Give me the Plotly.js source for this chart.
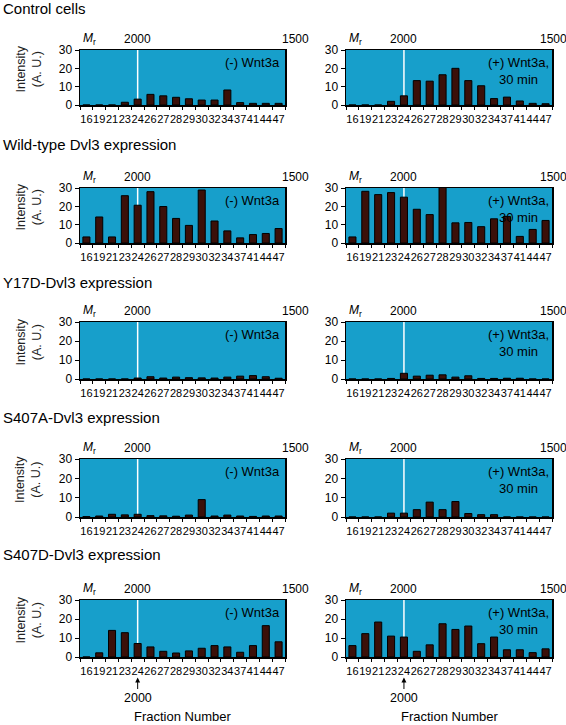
<!DOCTYPE html>
<html>
<head>
<meta charset="utf-8">
<script src="https://cdn.plot.ly/plotly-3.0.1.min.js"></script>
<style>html,body{margin:0;padding:0;background:#fff;}#chart{width:566px;height:725px;}</style>
</head>
<body>
<div id="chart"></div>
<script>
// ---- data ----
const fractions = ['16','19','21','23','24','26','27','28','29','30','32','34','37','41','44','47'];
const markerFraction = '24';
const markerLabel = '2000';
const rightLabel = '1500';

const rowTitles = ['Control cells', 'Wild-type Dvl3 expression', 'Y17D-Dvl3 expression',
                   'S407A-Dvl3 expression', 'S407D-Dvl3 expression'];
const conditionMinus = '(-) Wnt3a';
const conditionPlus = '(+) Wnt3a,<br>30 min';

const controlMinus = [0, 0, 0, 1.5, 3.2, 5.8, 5.0, 4.2, 3.4, 2.7, 2.7, 8.2, 1.3, 0.9, 0.9, 0.9];
const controlPlus  = [0, 0, 0, 2.0, 5.0, 13.3, 13.0, 16.5, 20.0, 13.3, 10.5, 3.5, 4.3, 2.2, 0.9, 0.7];
const wtMinus      = [3.3, 14.2, 3.3, 25.8, 20.6, 28.0, 19.9, 13.4, 9.6, 28.9, 12.0, 6.6, 2.8, 4.6, 5.2, 7.9];
const wtPlus       = [3.3, 28.2, 26.4, 27.5, 25.0, 18.4, 15.5, 30.4, 11.0, 11.2, 8.9, 13.2, 14.5, 3.6, 7.4, 12.3];
const y17dMinus    = [0, 0, 0, 0, 0.5, 1.2, 0.5, 1.0, 0.7, 0.6, 0.5, 1.0, 1.5, 1.8, 1.2, 0.4];
const y17dPlus     = [0, 0, 0, 0.3, 3.0, 1.5, 2.0, 2.2, 1.0, 1.7, 0.3, 0.3, 0.4, 0.4, 0, 0];
const s407aMinus   = [0.2, 0.5, 1.4, 1.1, 1.4, 0.7, 0.6, 0.4, 1.0, 9.0, 0.5, 1.0, 0.5, 0.3, 0.5, 0.5];
const s407aPlus    = [0, 0, 0, 2.0, 2.0, 3.8, 7.7, 3.8, 8.0, 1.8, 1.2, 1.2, 0, 0, 0, 0];
const s407dMinus   = [0, 2.2, 14.0, 12.8, 7.1, 5.3, 3.0, 2.1, 3.2, 4.6, 6.0, 5.3, 2.5, 6.0, 16.5, 8.0];
const s407dPlus    = [6.0, 12.3, 18.4, 11.0, 10.5, 3.0, 6.4, 17.5, 14.5, 16.3, 7.0, 10.5, 3.8, 3.8, 2.3, 4.3];

const panels = [
  [controlMinus, controlPlus],
  [wtMinus, wtPlus],
  [y17dMinus, y17dPlus],
  [s407aMinus, s407aPlus],
  [s407dMinus, s407dPlus]
];

// ---- layout geometry ----
const W = 566, H = 725;
const rowPx = [[50,105],[188,243],[322,379],[459,517],[600,657]];
const colPx = [[80,285],[346,552]];
const titlePx = [8, 144, 282, 418, 554];

const BG = '#179fcb';
const BAR = '#3b1009';
const FONT = 'Liberation Sans, Arial, Helvetica, sans-serif';

const traces = [];
const layout = {
  width: W, height: H,
  margin: {l:0, r:0, t:0, b:0},
  paper_bgcolor: '#ffffff',
  plot_bgcolor: BG,
  showlegend: false,
  bargap: 0.45,
  font: {family: FONT, color: '#000', size: 11},
  annotations: [],
  shapes: []
};

const markerIdx = fractions.indexOf(markerFraction);

let k = 0;
panels.forEach((pair, r) => {
  pair.forEach((vals, c) => {
    k++;
    const xa = 'xaxis' + (k === 1 ? '' : k);
    const ya = 'yaxis' + (k === 1 ? '' : k);
    const xid = 'x' + (k === 1 ? '' : k);
    const yid = 'y' + (k === 1 ? '' : k);
    traces.push({
      type: 'bar', x: fractions, y: vals, xaxis: xid, yaxis: yid,
      marker: {color: BAR, line: {color: '#000', width: 1}},
      hoverinfo: 'x+y'
    });
    layout[xa] = {
      domain: [colPx[c][0]/W, colPx[c][1]/W],
      anchor: yid,
      type: 'category',
      categoryorder: 'array', categoryarray: fractions,
      tickmode: 'linear', tick0: 0, dtick: 1,
      tickson: 'boundaries',
      ticks: 'outside', ticklen: 3, tickwidth: 1, tickcolor: '#000',
      tickangle: 0, ticklabelstandoff: 3,
      tickfont: {size: 11, family: FONT, color: '#000'},
      showline: true, linecolor: '#000', linewidth: 1.5, mirror: true,
      showgrid: false, zeroline: false, fixedrange: true
    };
    layout[ya] = {
      domain: [1 - rowPx[r][1]/H, 1 - rowPx[r][0]/H],
      anchor: xid,
      range: [0, 30], tickmode: 'linear', tick0: 0, dtick: 10,
      ticks: 'outside', ticklen: 4, tickwidth: 1, tickcolor: '#000',
      tickfont: {size: 12, family: FONT, color: '#000'},
      showline: true, linecolor: '#000', linewidth: 1.5, mirror: true,
      showgrid: false, zeroline: false, fixedrange: true
    };
    // white marker line at the 2000 fraction
    layout.shapes.push({
      type: 'line', layer: 'below', xref: xid, yref: yid + ' domain',
      x0: markerIdx, x1: markerIdx, y0: 0, y1: 1,
      line: {color: '#ffffff', width: 1.5}
    });
    // Mr label
    layout.annotations.push({
      xref: xid + ' domain', yref: yid + ' domain', x: 0, y: 1,
      xanchor: 'left', yanchor: 'bottom', xshift: 1, yshift: 1,
      text: '<i>M</i><sub>r</sub>', showarrow: false,
      font: {size: 12, family: FONT, color: '#000'}
    });
    layout.annotations.push({
      xref: xid, yref: yid + ' domain', x: markerIdx, y: 1,
      xanchor: 'center', yanchor: 'bottom', yshift: 2,
      text: markerLabel, showarrow: false,
      font: {size: 12, family: FONT, color: '#000'}
    });
    layout.annotations.push({
      xref: xid + ' domain', yref: yid + ' domain', x: 1, y: 1,
      xanchor: 'center', yanchor: 'bottom', yshift: 2, xshift: c === 0 ? 10 : 1,
      text: rightLabel, showarrow: false,
      font: {size: 12, family: FONT, color: '#000'}
    });
    // condition label
    layout.annotations.push({
      xref: xid + ' domain', yref: yid + ' domain', x: 1, y: 1,
      xanchor: 'right', yanchor: 'top', xshift: c === 0 ? -3 : -1, yshift: -3,
      text: c === 0 ? conditionMinus : conditionPlus, align: 'center',
      showarrow: false,
      font: {size: 13, family: FONT, color: '#000'}
    });
    if (c === 0) {
      layout.annotations.push({
        xref: 'paper', yref: yid + ' domain', x: 28/W, y: 0.5,
        xanchor: 'center', yanchor: 'middle', yshift: 8,
        textangle: -90, text: 'Intensity<br>(A. U.)', showarrow: false,
        font: {size: 12.5, family: FONT, color: '#222'}
      });
    }
    if (r === panels.length - 1) {
      layout.annotations.push({
        xref: xid, yref: yid + ' domain', x: markerIdx, y: -0.36,
        ax: 0, ay: 20, showarrow: true, arrowhead: 2, arrowsize: 1, arrowwidth: 1,
        arrowcolor: '#000', text: markerLabel, standoff: 0,
        font: {size: 12.5, family: FONT, color: '#000'}
      });
      layout.annotations.push({
        xref: xid + ' domain', yref: 'paper', x: 0.5, y: 1 - 716/H,
        xanchor: 'center', yanchor: 'middle',
        text: 'Fraction Number', showarrow: false,
        font: {size: 13, family: FONT, color: '#000'}
      });
    }
  });
  layout.annotations.push({
    xref: 'paper', yref: 'paper', x: 1/W, y: 1 - titlePx[r]/H,
    xanchor: 'left', yanchor: 'middle',
    text: rowTitles[r], showarrow: false,
    font: {size: 15, family: FONT, color: '#000'}
  });
});

Plotly.newPlot('chart', traces, layout, {displayModeBar: false, staticPlot: true});
</script>
</body>
</html>
